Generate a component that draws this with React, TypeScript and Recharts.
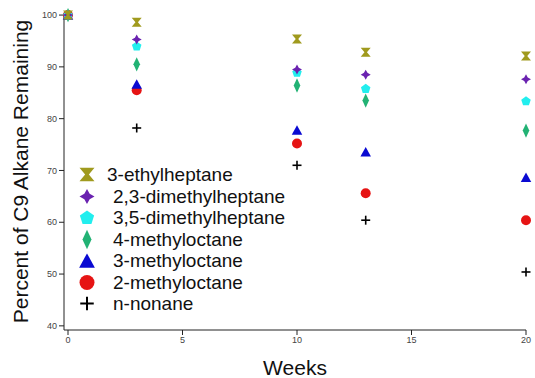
import React from "react";
import { ScatterChart, Scatter, XAxis, YAxis } from "recharts";

const weeks = [0, 3, 10, 13, 20];
const ethylheptane3 = [100, 98.6, 95.4, 92.8, 92.1];
const dimethylheptane23 = [100, 95.3, 89.5, 88.5, 87.6];
const dimethylheptane35 = [100, 94.0, 88.9, 85.8, 83.4];
const methyloctane4 = [100, 90.5, 86.4, 83.5, 77.7];
const methyloctane3 = [100, 86.7, 77.8, 73.6, 68.7];
const methyloctane2 = [100, 85.5, 75.2, 65.6, 60.4];
const nonane = [100, 78.2, 71.0, 60.4, 50.4];

const xTicks = [0, 5, 10, 15, 20];
const yTicks = [40, 50, 60, 70, 80, 90, 100];

const series = [
  { name: "3-ethylheptane", values: ethylheptane3, color: "#a09a1e", kind: "hourglass" },
  { name: "2,3-dimethylheptane", values: dimethylheptane23, color: "#6a22b0", kind: "star" },
  { name: "3,5-dimethylheptane", values: dimethylheptane35, color: "#22eeee", kind: "pentagon" },
  { name: "4-methyloctane", values: methyloctane4, color: "#22b274", kind: "diamond" },
  { name: "3-methyloctane", values: methyloctane3, color: "#0a0ad2", kind: "triangle" },
  { name: "2-methyloctane", values: methyloctane2, color: "#e61414", kind: "circle" },
  { name: "n-nonane", values: nonane, color: "#000000", kind: "plus" },
];

const FONT = "'Liberation Sans', Arial, sans-serif";

function marker(kind: string, cx: number, cy: number, s: number, color: string) {
  const r = s / 2;
  switch (kind) {
    case "hourglass": {
      const w = r, h = r * 0.9;
      const pts = [
        [cx - w, cy - h], [cx + w, cy - h], [cx + w * 0.25, cy],
        [cx + w, cy + h], [cx - w, cy + h], [cx - w * 0.25, cy],
      ];
      return <polygon points={pts.map((p) => p.join(",")).join(" ")} fill={color} />;
    }
    case "star": {
      const pts: number[][] = [];
      for (let i = 0; i < 8; i++) {
        const a = (Math.PI / 4) * i - Math.PI / 2;
        const rr = i % 2 === 0 ? r : r * 0.5;
        pts.push([cx + rr * Math.cos(a), cy + rr * Math.sin(a)]);
      }
      return <polygon points={pts.map((p) => p.join(",")).join(" ")} fill={color} />;
    }
    case "pentagon": {
      const pts: number[][] = [];
      for (let i = 0; i < 5; i++) {
        const a = ((Math.PI * 2) / 5) * i - Math.PI / 2;
        pts.push([cx + r * Math.cos(a), cy + r * 0.05 + r * Math.sin(a)]);
      }
      return <polygon points={pts.map((p) => p.join(",")).join(" ")} fill={color} />;
    }
    case "diamond": {
      const w = r * 0.6, h = r * 1.3;
      return (
        <polygon
          points={`${cx},${cy - h} ${cx + w},${cy} ${cx},${cy + h} ${cx - w},${cy}`}
          fill={color}
        />
      );
    }
    case "triangle": {
      const w = r * 1.05, h = r * 0.95;
      return (
        <polygon
          points={`${cx},${cy - h} ${cx + w},${cy + h} ${cx - w},${cy + h}`}
          fill={color}
        />
      );
    }
    case "circle":
      return <circle cx={cx} cy={cy} r={r} fill={color} />;
    default:
      return (
        <g stroke={color} strokeWidth={s > 12 ? 2 : 1.6}>
          <line x1={cx - r * 0.9} y1={cy} x2={cx + r * 0.9} y2={cy} />
          <line x1={cx} y1={cy - r * 0.9} x2={cx} y2={cy + r * 0.9} />
        </g>
      );
  }
}

function LegendBox() {
  return (
    <div
      style={{
        position: "absolute",
        left: 76,
        top: 164,
        fontFamily: FONT,
        fontSize: 19,
        color: "#111",
        pointerEvents: "none",
      }}
    >
      {series.map((s, i) => (
        <div key={s.name} style={{ display: "flex", alignItems: "center", height: 21.5 }}>
          <svg width={22} height={21} style={{ marginRight: i === 0 ? 9 : 15 }}>
            {marker(s.kind, 11, 10.5, 15, s.color)}
          </svg>
          <span style={{ lineHeight: "21px", whiteSpace: "nowrap" }}>{s.name}</span>
        </div>
      ))}
    </div>
  );
}

export default function App() {
  const drawOrder = [...series].reverse();
  return (
    <div style={{ position: "absolute", left: 0, top: 0, width: 535, height: 378, background: "#fff" }}>
      <ScatterChart width={535} height={378} margin={{ top: 13, right: 9, bottom: 0, left: 0 }}>
        <XAxis
          type="number"
          dataKey="x"
          domain={[-0.175, 20]}
          ticks={xTicks}
          height={48}
          tickSize={5}
          stroke="#222"
          tick={{ fontSize: 9, fill: "#444", fontFamily: FONT }}
          label={{
            value: "Weeks",
            position: "insideBottom",
            offset: 3,
            style: { fontSize: 21, fill: "#111", fontFamily: FONT },
          }}
        />
        <YAxis
          type="number"
          dataKey="y"
          domain={[39.2, 100.4]}
          ticks={yTicks}
          width={64}
          tickSize={5}
          stroke="#222"
          tick={{ fontSize: 9, fill: "#444", fontFamily: FONT }}
          label={{
            value: "Percent of C9 Alkane Remaining",
            angle: -90,
            position: "center",
            dx: -11,
            style: { fontSize: 21, fill: "#111", fontFamily: FONT, textAnchor: "middle" },
          }}
        />
        {drawOrder.map((s) => (
          <Scatter
            key={s.name}
            name={s.name}
            data={weeks.map((w, i) => ({ x: w, y: s.values[i] }))}
            fill={s.color}
            isAnimationActive={false}
            shape={(p: any) => marker(s.kind, p.cx, p.cy, s.kind === "diamond" ? 11 : 10, s.color)}
          />
        ))}
      </ScatterChart>
      <LegendBox />
    </div>
  );
}
